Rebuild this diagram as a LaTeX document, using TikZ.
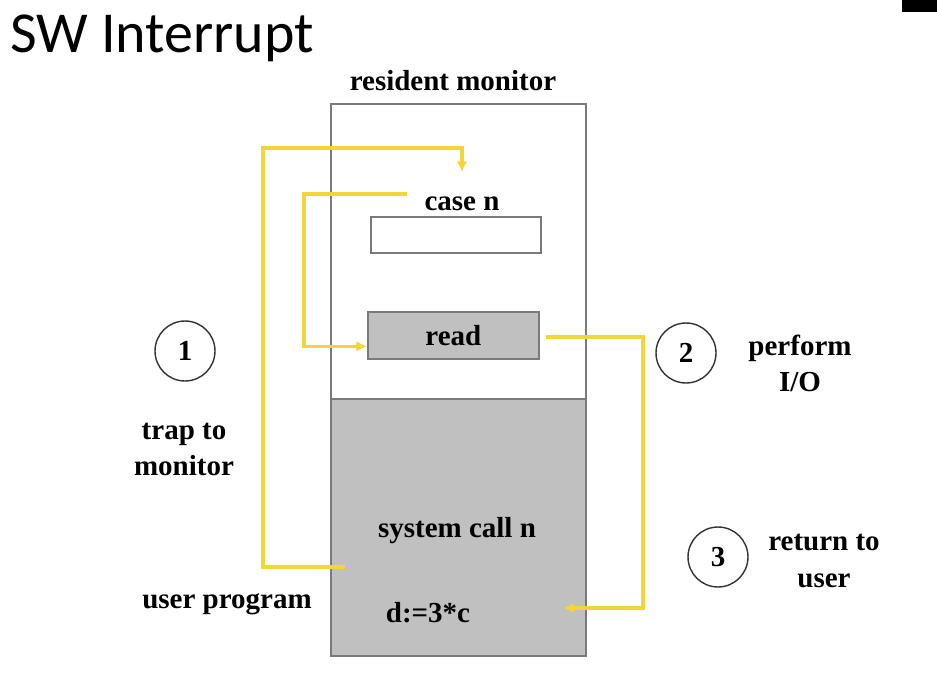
\documentclass[tikz,border=0pt]{standalone}
\usepackage{fontspec}
\setmainfont{Liberation Serif}
\newfontfamily\titlefont{Carlito}
\usetikzlibrary{arrows.meta,calc}
\definecolor{ylw}{HTML}{F2D638}
\definecolor{boxgray}{HTML}{C0C0C0}
\definecolor{edgegray}{HTML}{7A7A7A}
\begin{document}
\begin{tikzpicture}[x=0.02cm,y=-0.02cm,
  lbl/.style={font=\fontsize{16.5}{20.5}\selectfont\bfseries, align=center, inner sep=0pt},
  memwhite/.style={draw=edgegray, line width=1pt, fill=white, inner sep=0pt},
  memgray/.style={draw=edgegray, line width=1pt, fill=boxgray, inner sep=0pt},
  numcirc/.style={circle, draw=black!80, line width=0.8pt, minimum size=1.2cm, inner sep=0pt, font=\fontsize{16.5}{20}\selectfont\bfseries},
  flow/.style={draw=ylw, line width=2pt, -{Latex[length=6pt,width=6pt]}}]
\useasboundingbox[fill=white] (0,0) rectangle (937,680);
\fill[black] (902,0) rectangle (937,12);

\node[anchor=base west, inner sep=0pt, font=\titlefont\fontsize{33}{40}\selectfont] (title) at (10,52) {SW Interrupt};

\node[memwhite, minimum width=5.1cm, minimum height=5.9cm, anchor=north west] (mon) at (330,103) {};
\node[memgray, minimum width=5.1cm, minimum height=5.14cm, anchor=north west] (user) at (330,398) {};
\node[memwhite, minimum width=3.4cm, minimum height=0.72cm, anchor=north west] (casebox) at (370,216) {};
\node[memgray, minimum width=3.42cm, minimum height=0.94cm, anchor=north west, lbl] (read) at (367,311) {read};

\node[lbl] (resmon) at (453,81) {resident monitor};
\node[lbl] (casen) at (462,204) {case n};
\node[lbl] (syscall) at (457,531) {system call n};
\node[lbl] (dassign) at (428,613) {d:=3*c};
\node[lbl] (userprog) at (227,604) {user program};
\node[lbl] (trap) at (184,449) {trap to\\monitor};
\node[lbl] (perform) at (800,363) {perform\\I/O};
\node[lbl] (ret) at (824,561) {return to\\user};

\node[numcirc] (c1) at (185,351) {1};
\node[numcirc] (c2) at (686,353) {2};
\node[numcirc] (c3) at (718,557) {3};

\coordinate (s1) at (345,567);
\coordinate (t1) at (462,172);
\coordinate (s2) at (407,194);
\coordinate (s3) at (546,337);
\coordinate (t3) at (563,608);

\draw[flow] (s1) -- (263,567) -- (263,148) -| (t1);
\draw[flow] (s2) -- (304,194) |- ($(read.west)+(0,11)$);
\draw[flow] (s3) -- (643,337) |- (t3);
\end{tikzpicture}
\end{document}
